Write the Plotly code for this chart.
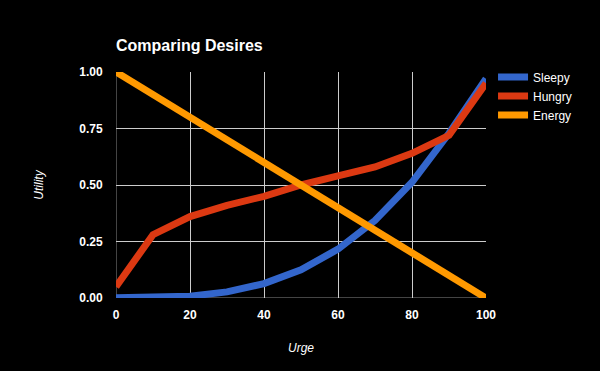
import plotly.graph_objects as go

urge = [0, 10, 20, 30, 40, 50, 60, 70, 80, 90, 100]
sleepy = [0.001, 0.002, 0.008, 0.027, 0.064, 0.125, 0.216, 0.343, 0.512, 0.729, 0.97]
hungry = [0.05, 0.28, 0.36, 0.41, 0.45, 0.50, 0.54, 0.58, 0.64, 0.72, 0.95]
energy = [1.0, 0.9, 0.8, 0.7, 0.6, 0.5, 0.4, 0.3, 0.2, 0.1, 0.0]

series = [("Sleepy", sleepy, "#3366cc"), ("Hungry", hungry, "#dc3912"), ("Energy", energy, "#ff9900")]
y_ticks = [0, 0.25, 0.5, 0.75, 1.0]
y_ticktext = ["0.00", "0.25", "0.50", "0.75", "1.00"]
x_ticks = [0, 20, 40, 60, 80, 100]

fig = go.Figure()
for name, vals, color in series:
    fig.add_trace(go.Scatter(x=urge, y=vals, name=name, mode="lines",
                             line=dict(color=color, width=7)))

font = "Liberation Sans, Arial, sans-serif"
fig.update_layout(
    width=600, height=371,
    paper_bgcolor="#000000", plot_bgcolor="#000000",
    margin=dict(l=116, r=114, t=72, b=73),
    font=dict(family=font, color="#ffffff", size=12),
    title=dict(text="Comparing Desires", x=116/600, xanchor="left", y=1-45/371, yanchor="middle",
               font=dict(family=font, size=16, color="#ffffff", weight="bold")),
    showlegend=True,
    legend=dict(x=1.019, xanchor="left", y=1.042, yanchor="top", bgcolor="rgba(0,0,0,0)",
                font=dict(family=font, size=12, color="#ffffff"),
                itemwidth=30, tracegroupgap=0),
    xaxis=dict(range=[0, 100], tickvals=x_ticks, showgrid=True, gridcolor="#cccccc", gridwidth=1,
               zeroline=False, showline=False, ticks="outside", ticklen=6, tickcolor="rgba(0,0,0,0)",
               tickfont=dict(family=font, size=12, color="#ffffff", weight="bold"),
               title=dict(text="Urge", standoff=22,
                          font=dict(family=font, size=12, color="#ffffff", style="italic"))),
    yaxis=dict(range=[0, 1], tickvals=y_ticks, ticktext=y_ticktext, showgrid=True, gridcolor="#cccccc",
               gridwidth=1, zeroline=False, showline=False, ticks="outside", ticklen=10,
               tickcolor="rgba(0,0,0,0)",
               tickfont=dict(family=font, size=12, color="#ffffff", weight="bold"),
               title=dict(text="Utility", standoff=33,
                          font=dict(family=font, size=12, color="#ffffff", style="italic"))),
)
# darker baseline lines at x=0 and y=0
fig.add_shape(type="line", xref="x", yref="y", x0=0, x1=100, y0=0, y1=0,
              line=dict(color="#888888", width=1), layer="below")
fig.add_shape(type="line", xref="x", yref="y", x0=0, x1=0, y0=0, y1=1,
              line=dict(color="#888888", width=1), layer="below")

fig.write_html("out.html", config={"displayModeBar": False},
               post_script="document.body.style.margin='0';document.body.style.background='#000';")
